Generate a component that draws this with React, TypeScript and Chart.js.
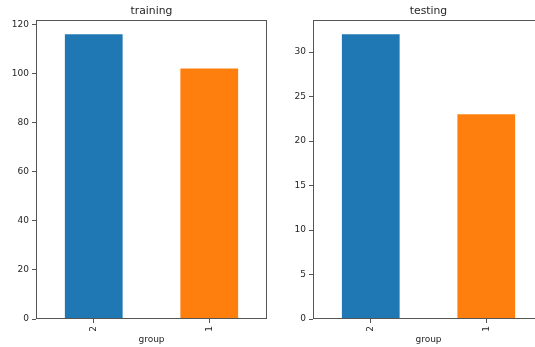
import React, { useEffect, useRef } from 'react';
import { Chart, registerables } from 'chart.js';

Chart.register(...registerables);

const groups = ['2', '1'];
const trainingCounts = [116, 102];
const testingCounts = [32, 23];
const trainingTicks = [0, 20, 40, 60, 80, 100, 120];
const testingTicks = [0, 5, 10, 15, 20, 25, 30];
const trainingYMax = 121.8;
const testingYMax = 33.6;
const barColors = ['#1f77b4', '#ff7f0e'];

const FONT = "'DejaVu Sans', sans-serif";
const TEXT = '#262626';
const LINE = '#555555';

const framePlugin = {
  id: 'frame',
  afterDatasetsDraw(chart: any) {
    const { ctx, chartArea: a } = chart;
    ctx.save();
    ctx.strokeStyle = LINE;
    ctx.lineWidth = 1;
    const l = Math.round(a.left) + 0.5;
    const t = Math.round(a.top) + 0.5;
    const r = Math.round(a.right) - 0.5;
    const b = Math.round(a.bottom) - 0.5;
    ctx.strokeRect(l, t, r - l, b - t);
    ctx.restore();
  },
};

function makeConfig(title: string, values: number[], ticks: number[], yMax: number, padRight: number) {
  return {
    type: 'bar' as const,
    data: {
      labels: groups,
      datasets: [
        {
          data: values,
          backgroundColor: barColors,
          borderWidth: 0,
          barPercentage: 0.5,
          categoryPercentage: 1.0,
        },
      ],
    },
    options: {
      responsive: false,
      animation: false as const,
      layout: { padding: { left: 0, right: padRight, top: 0, bottom: 0 } },
      plugins: {
        legend: { display: false },
        tooltip: { enabled: false },
        title: {
          display: true,
          text: title,
          fullSize: false,
          color: TEXT,
          font: { family: FONT, size: 10.8, weight: 'normal' as const },
          padding: { top: 4.5, bottom: 2.5 },
        },
      },
      scales: {
        x: {
          type: 'category' as const,
          offset: true,
          border: { display: false },
          grid: {
            display: true,
            drawOnChartArea: false,
            drawTicks: true,
            tickLength: 4,
            color: LINE,
            offset: false,
          },
          ticks: {
            minRotation: 90,
            maxRotation: 90,
            padding: 3,
            color: TEXT,
            font: { family: FONT, size: 9 },
          },
          title: {
            display: true,
            text: 'group',
            color: TEXT,
            font: { family: FONT, size: 9 },
            padding: { top: 0, bottom: 2 },
          },
          afterFit: (s: any) => {
            s.height = 28;
          },
        },
        y: {
          min: 0,
          max: yMax,
          border: { display: false },
          grid: {
            display: true,
            drawOnChartArea: false,
            drawTicks: true,
            tickLength: 4,
            color: LINE,
          },
          ticks: {
            padding: 3,
            color: TEXT,
            font: { family: FONT, size: 9 },
          },
          afterBuildTicks: (s: any) => {
            s.ticks = ticks.map((v) => ({ value: v }));
          },
          afterFit: (s: any) => {
            s.width = 36;
          },
        },
      },
    },
    plugins: [framePlugin],
  };
}

export default function App() {
  const leftRef = useRef<HTMLCanvasElement>(null);
  const rightRef = useRef<HTMLCanvasElement>(null);

  useEffect(() => {
    const c1 = new Chart(leftRef.current as HTMLCanvasElement, makeConfig('training', trainingCounts, trainingTicks, trainingYMax, 13) as any);
    const c2 = new Chart(rightRef.current as HTMLCanvasElement, makeConfig('testing', testingCounts, testingTicks, testingYMax, 3) as any);
    return () => {
      c1.destroy();
      c2.destroy();
    };
  }, []);

  return (
    <div
      style={{
        position: 'fixed',
        left: 0,
        top: 0,
        width: 535,
        height: 347,
        overflow: 'hidden',
        background: '#ffffff',
      }}
    >
      <canvas ref={leftRef} width={280} height={347} style={{ position: 'absolute', left: 0, top: 0 }} />
      <canvas ref={rightRef} width={270} height={347} style={{ position: 'absolute', left: 277, top: 0 }} />
    </div>
  );
}
